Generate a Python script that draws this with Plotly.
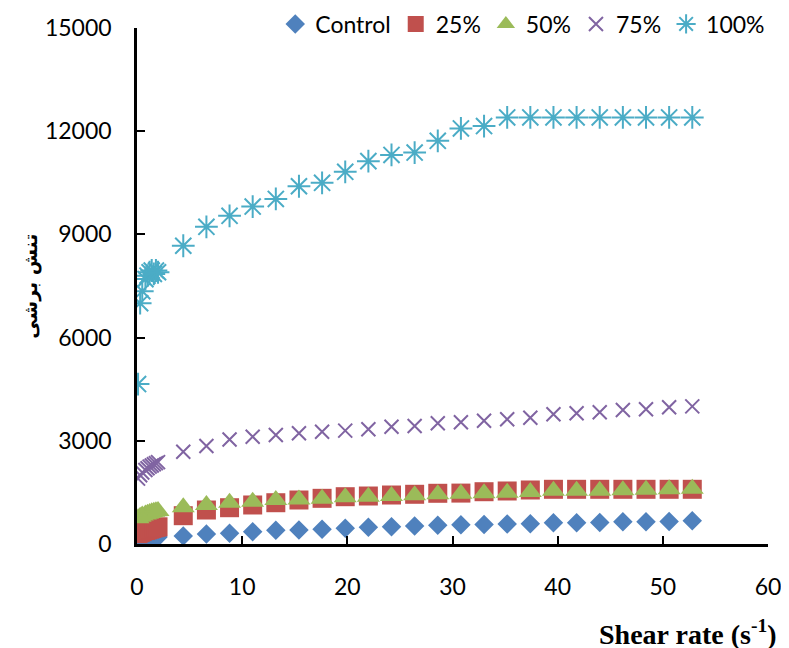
import plotly.graph_objects as go

# ---- data ----
x_cluster = [0.1, 0.3, 0.5, 0.8, 1.0, 1.2, 1.4, 1.6, 1.8, 2.0]
x_main = [4.4, 6.6, 8.8, 11.0, 13.2, 15.4, 17.6, 19.8, 22.0, 24.2, 26.4, 28.6,
          30.8, 33.0, 35.2, 37.4, 39.6, 41.8, 44.0, 46.2, 48.4, 50.6, 52.8]
shear_rate = x_cluster + x_main

control = [50, 70, 90, 110, 125, 140, 155, 170, 185, 200] + \
          [233, 291, 310, 358, 400, 410, 426, 455, 485, 503, 523, 545, 560,
           570, 581, 590, 615, 620, 625, 645, 650, 655, 675]
p25 = [300, 330, 360, 390, 410, 430, 450, 470, 485, 500] + \
      [823, 988, 1055, 1134, 1200, 1279, 1328, 1375, 1395, 1424, 1445, 1474,
       1480, 1520, 1541, 1570, 1590, 1590, 1590, 1590, 1590, 1590, 1590]
p50 = [750, 790, 830, 860, 880, 900, 920, 935, 950, 960] + \
      [1066, 1134, 1200, 1230, 1279, 1290, 1317, 1357, 1375, 1395, 1415, 1445,
       1462, 1474, 1491, 1512, 1550, 1550, 1550, 1561, 1579, 1590, 1608]
p75 = [1900, 2000, 2080, 2150, 2200, 2250, 2280, 2320, 2350, 2380] + \
      [2680, 2850, 3040, 3120, 3170, 3220, 3265, 3295, 3335, 3410, 3430, 3510,
       3540, 3585, 3625, 3670, 3770, 3800, 3830, 3895, 3915, 3975, 4000]
p100 = [4650, 7000, 7350, 7700, 7800, 7900, 7950, 7850, 7950, 7900] + \
       [8670, 9220, 9540, 9810, 10030, 10400, 10500, 10820, 11130, 11310, 11380,
        11720, 12080, 12150, 12400, 12400, 12400, 12400, 12400, 12400, 12400,
        12400, 12400]

series_names = ["Control", "25%", "50%", "75%", "100%"]
x_ticks = [0, 10, 20, 30, 40, 50, 60]
y_ticks = [0, 3000, 6000, 9000, 12000, 15000]
x_ticklabels = [str(v) for v in x_ticks]
y_ticklabels = [str(v) for v in y_ticks]

# ---- figure ----
fig = go.Figure()
styles = [
    (control, dict(symbol="diamond", size=15, color="#4F81BD")),
    (p25, dict(symbol="square", size=19, color="#C0504D")),
    (p50, dict(symbol="triangle-up", size=20, color="#9BBB59")),
    (p75, dict(symbol="x-thin-open", size=14, color="#8064A2",
               line=dict(color="#8064A2", width=2))),
    (p100, dict(symbol="asterisk-open", size=19, color="#4BACC6",
                line=dict(color="#4BACC6", width=2))),
]
for name, (vals, mk) in zip(series_names, styles):
    fig.add_trace(go.Scatter(x=shear_rate, y=vals, mode="markers", name=name,
                             marker=mk))

axis_common = dict(showgrid=False, zeroline=False, showline=True,
                   linecolor="black", linewidth=2.5, ticks="inside",
                   ticklen=8, tickwidth=2, tickcolor="black",
                   tickfont=dict(family="Lato", size=23, color="black"),
                   automargin=False)
fig.update_xaxes(range=[0, 60], tickvals=x_ticks, ticktext=x_ticklabels,
                 ticklabelstandoff=21, **axis_common)
fig.update_yaxes(range=[0, 15000], tickvals=y_ticks, ticktext=y_ticklabels,
                 ticklabelstandoff=18, **axis_common)

fig.update_layout(
    width=781, height=640,
    margin=dict(l=129, r=21, t=20, b=104, autoexpand=False),
    plot_bgcolor="white", paper_bgcolor="white",
    showlegend=True,
    legend=dict(orientation="h", xref="container", yref="container",
                x=0.976, xanchor="right", y=0.975, yanchor="middle",
                font=dict(family="Lato", size=23, color="black"),
                bgcolor="rgba(0,0,0,0)", itemwidth=30, tracegroupgap=0),
    annotations=[
        dict(text="تنش برشی", xref="paper", yref="paper", x=-0.17, y=0.5,
             xanchor="center", yanchor="middle", textangle=-90,
             showarrow=False,
             font=dict(family="DejaVu Sans", size=19, color="black",
                       weight="bold")),
        dict(text="Shear rate (s<sup>-1</sup>)", xref="paper", yref="paper",
             x=1.018, y=-0.171, xanchor="right", yanchor="middle",
             showarrow=False,
             font=dict(family="Liberation Serif", size=28, color="black",
                       weight="bold")),
    ],
)

fig.write_html("out.html")
